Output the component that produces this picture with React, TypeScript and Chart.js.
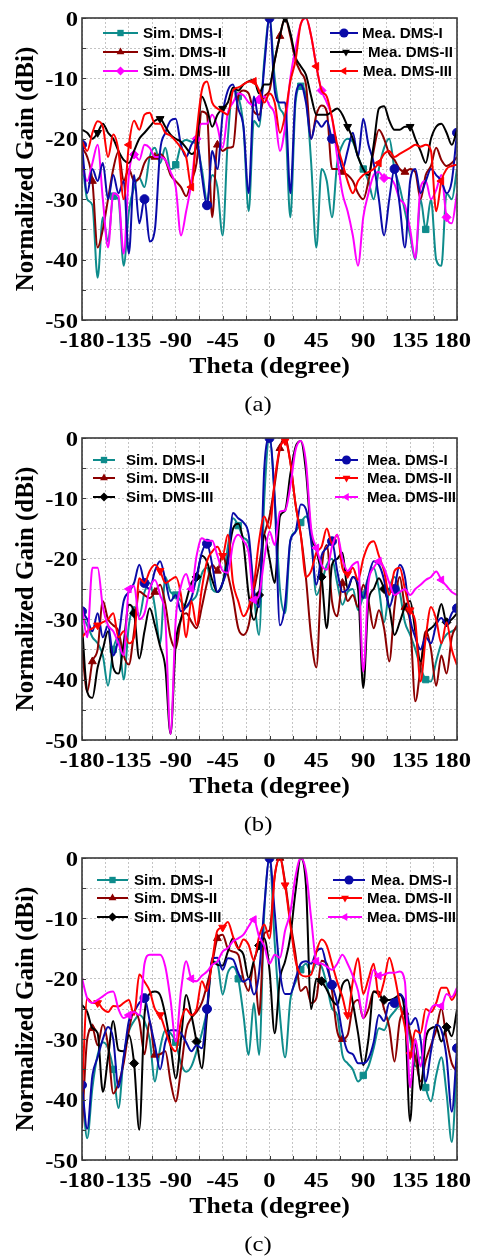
import React, { useEffect, useRef } from 'react';
import { Chart, registerables } from 'chart.js';

Chart.register(...registerables);

// ---------- categories / ticks ----------
const THETA = [
  -180, -175, -170, -165, -160, -155, -150, -145, -140, -135,
  -130, -125, -120, -115, -110, -105, -100, -95, -90, -85,
  -80, -75, -70, -65, -60, -55, -50, -45, -40, -35,
  -30, -25, -20, -15, -10, -5, 0,
  5, 10, 15, 20, 25, 30, 35, 40, 45, 50,
  55, 60, 65, 70, 75, 80, 85, 90, 95, 100,
  105, 110, 115, 120, 125, 130, 135, 140, 145, 150,
  155, 160, 165, 170, 175, 180,
];
const X_GRID = [-180, -157.5, -135, -112.5, -90, -67.5, -45, -22.5, 0, 22.5, 45, 67.5, 90, 112.5, 135, 157.5, 180];
const Y_GRID = [0, -5, -10, -15, -20, -25, -30, -35, -40, -45, -50];
const X_TICKS = [-180, -135, -90, -45, 0, 45, 90, 135, 180];
const Y_TICKS = [0, -10, -20, -30, -40, -50];
const X_TITLE = 'Theta (degree)';
const Y_TITLE = 'Normalized Gain (dBi)';
const SERIES_NAMES = ['Sim. DMS-I', 'Sim. DMS-II', 'Sim. DMS-III', 'Mea. DMS-I', 'Mea. DMS-II', 'Mea. DMS-III'];
const CAPTIONS = ['(a)', '(b)', '(c)'];

// ---------- panel (a) ----------
const A_SIM_I = [
  -23, -30, -31, -43, -33, -37, -29.5, -30, -41, -32,
  -28, -26.5, -28, -23, -21.5, -24, -21.5, -25, -24.3, -21,
  -20.2, -20.5, -21, -25, -30, -26, -28, -36, -20, -12,
  -13, -18, -32, -17, -18, -7, 0,
  -10, -15, -17, -33, -14, -11.3, -13, -24, -38, -25,
  -27, -33, -24, -21, -20, -20.5, -23, -25, -27, -30,
  -25, -21.5, -20, -25, -28, -32, -36, -40, -30, -35,
  -30, -40, -41, -29, -30, -25,
];
const A_SIM_II = [
  -21.5, -23, -27, -38, -35, -30, -25, -22.1, -27, -25,
  -27, -26.5, -24, -23, -23, -22.5, -23.5, -26, -27, -28,
  -29.5, -27, -24, -15.5, -16, -33, -21, -22, -21.5, -21.3,
  -13, -12, -12.5, -15.5, -16, -13, -12,
  -7, -3, 0, -3, -7, -9, -11, -20, -16, -14.5,
  -15.5, -25, -25, -25.5, -26, -27, -29, -30, -27, -22,
  -18.5, -20, -22.5, -23.5, -25, -25.5, -25, -25.5, -30, -26,
  -24.5, -21.5, -23.5, -24.5, -24, -23,
];
const A_SIM_III = [
  -24.3, -27, -24, -21, -30, -38, -29, -29.5, -39, -26,
  -22.6, -23.5, -21, -21.5, -23, -23, -23.5, -25.5, -28, -36,
  -32, -27.3, -20, -17.5, -17.5, -16, -18, -21.5, -15.7, -14,
  -12.5, -12.8, -14, -14.5, -13.5, -13, -14.5,
  -16, -22, -18, -10, -5, -1, 0, -3, -8, -12,
  -14, -16.5, -23, -29, -32, -36, -41, -33, -29, -26,
  -25.5, -26.5, -26.5, -27.5, -30, -31, -35, -39.8, -28, -27,
  -30, -28.5, -26, -33, -34, -29,
];
const A_MEA_I = [
  -21, -29, -25, -27, -24, -30, -26, -29, -27, -39,
  -26, -34, -30, -37, -35, -22, -19, -17, -16.7, -21,
  -23, -21, -20, -26, -31, -22, -25, -16, -12, -11,
  -15, -18, -29, -13, -17, -8, 0,
  -12, -14, -14, -29, -13, -11, -14, -20, -17, -18,
  -17, -20, -21, -25, -22, -19, -23, -16.7, -21, -24,
  -30, -36, -30, -25, -31, -38, -27, -25, -29, -27,
  -25, -26, -27, -29, -27, -19,
];
const A_MEA_II = [
  -18.5, -19, -20, -19, -17.5, -19, -20, -22, -23.5, -24,
  -22, -20, -19, -18, -17, -16.7, -18, -19.3, -20, -20.5,
  -21.5, -22.5, -21, -13, -15, -18, -16, -15, -14, -11.5,
  -12, -11, -10.5, -10.2, -12.5, -11, -11,
  -7, -3, 0, -2.5, -6.5, -8, -9.4, -13, -16, -16,
  -16, -15.5, -15, -16, -18, -20, -23, -25, -26, -21,
  -15, -14.6, -17, -18.5, -18.5, -18, -18, -20, -22, -24,
  -20, -18, -17.5, -19, -21, -18.5,
];
const A_MEA_III = [
  -20.4, -22, -19, -17.1, -18, -23, -19.3, -22, -30, -21,
  -17, -18.5, -16, -15.7, -17.5, -17.5, -19, -19.5, -20.4, -21.5,
  -23, -28, -19, -12, -10.5, -14, -15, -15.5, -16, -12,
  -11.5, -11, -10.5, -10.5, -12, -14, -12.5,
  -14, -19, -16, -10.5, -7, -1, 0, -3, -8, -12,
  -13, -16.5, -21, -24, -27, -29, -27, -26, -25.5, -25,
  -24, -22.5, -22, -23, -22.5, -22, -21.5, -21, -21.3, -21,
  -22, -32, -27, -25, -24.5, -24.3,
];

// ---------- panel (b) ----------
const B_SIM_I = [
  -29.5, -31, -33, -34, -36, -41, -35, -33, -40, -31,
  -28, -29.5, -25.5, -24, -28, -34, -23, -25.5, -26, -27,
  -28, -27, -26, -22.5, -21.5, -25, -25.5, -24, -18, -13.3,
  -14.5, -16.5, -17.5, -26, -32.6, -10, 0,
  -10, -25, -29, -17, -15.5, -14, -13, -16.5, -26, -24,
  -21, -20, -24, -27.6, -25.5, -25, -28.5, -26, -23, -21.5,
  -25, -30.5, -25, -23, -25.5, -30.5, -32.6, -35, -38, -40,
  -40.3, -37, -34, -32.5, -32, -31.5,
];
const B_SIM_II = [
  -34.8, -42, -37, -35, -27, -30, -31, -32, -36, -37.5,
  -32, -25.4, -26, -26.5, -25.5, -24.3, -27.5, -33, -34.8, -30,
  -29, -30.4, -31.5, -28, -24, -21, -22, -19.3, -22.6, -26.5,
  -31.5, -32.6, -31, -25.4, -21, -16, -13,
  -7.7, -1.7, 0, -4, -11, -16, -23.2, -33, -38, -22,
  -17.7, -27, -29.5, -24, -27, -26, -28, -24.3, -27, -31.5,
  -28.5, -31.5, -37, -28, -23, -28, -30.5, -43.6, -38, -32,
  -35, -41, -36, -39, -33, -31,
];
const B_SIM_III = [
  -31, -42, -43, -38, -35, -32, -38, -39, -34, -27.6,
  -29, -36.5, -32, -28.2, -31, -34.5, -38, -49, -34, -30,
  -27, -24, -23, -19.5, -20.5, -23.5, -25.5, -24, -20, -15,
  -14.2, -17.5, -26, -30.1, -26, -16, -20,
  -24, -13, -12, -6, -1.5, -0.5, -5.5, -16, -18.5, -23,
  -31.5, -21, -20, -19, -25, -23, -25, -41.4, -27, -25,
  -23.2, -25, -28, -32.6, -30.5, -28, -27, -32, -37, -32.5,
  -31.5, -30.5, -27.5, -30.5, -30, -29,
];
const B_MEA_I = [
  -28.7, -30, -32, -29, -33, -31, -36, -33, -27, -25.5,
  -24, -21, -24, -25, -22, -20.4, -23.5, -27, -26, -28.7,
  -28, -26.5, -23, -19, -17.5, -21, -25.5, -24, -21, -12.4,
  -13.3, -14, -16, -25, -28, -5, 0,
  -10, -31, -27.5, -17, -15.5, -11, -11.8, -17, -24.3, -19.5,
  -18.2, -17.1, -22, -25.5, -25, -23, -24, -26.5, -23, -20.4,
  -21, -23.5, -28, -25, -21, -23, -30, -33, -35, -33,
  -34, -31, -29.8, -31, -29, -28.2,
];
const B_MEA_II = [
  -33, -32, -31.5, -31, -30.5, -30, -29, -33, -32, -34,
  -33, -23.2, -24, -22, -21, -22, -24, -23.5, -23, -26,
  -33, -27, -31, -25, -20.4, -18.8, -18, -19.5, -16, -24,
  -27, -29.5, -28, -24.3, -17, -13, -15,
  -7, -1.7, -0.5, -4, -11, -16, -23, -22, -19, -18,
  -15, -17.5, -16, -21.5, -22.5, -21.5, -23.5, -20, -17.7, -17.1,
  -19.5, -22, -26, -22, -21.5, -25, -28.5, -30.5, -40.3, -33,
  -28, -30, -34, -30.5, -35, -37.6,
];
const B_MEA_III = [
  -28, -33, -21.5, -21.5, -28, -31, -32, -34, -36, -25,
  -24.5, -30, -29, -25, -23.5, -26, -30, -49, -30, -24.5,
  -22.5, -25, -19.5, -16.6, -17, -17, -19.5, -22, -22.3, -17.5,
  -16, -17, -19, -26.8, -26, -20, -15.5,
  -17.7, -12.2, -12, -8, -2, -0.5, -4, -15, -18.2, -21,
  -21.8, -18, -16, -20, -22, -21, -20.5, -38.7, -24, -21.5,
  -20.4, -21.5, -24, -26, -25.5, -25, -26, -25, -24.3, -23.5,
  -23, -22.1, -23.5, -24.5, -25.5, -26,
];

// ---------- panel (c) ----------
const C_SIM_I = [
  -38, -46.4, -38, -32.6, -30.5, -31.5, -35, -41.4, -33, -28.7,
  -27, -26, -27, -30, -37, -31.5, -28.5, -29, -30.5, -34,
  -35.4, -34.5, -32, -29, -25, -17.1, -17.5, -22.6, -19, -18,
  -20, -26, -32.6, -24, -32.6, -9, 0,
  -14, -26, -33, -23.5, -20.5, -18.5, -17.5, -19, -17.5, -18,
  -21, -24.9, -26, -32.6, -34, -35, -37, -36, -34.5, -31.5,
  -28.2, -28.5, -26.5, -25.4, -24.5, -26, -30, -34.5, -33, -38,
  -40.3, -36, -33, -39, -47, -34,
];
const C_SIM_II = [
  -44.7, -30, -28.2, -31, -27.6, -31, -39, -37.3, -34, -28.5,
  -25.4, -27, -32.5, -27, -32.6, -32.5, -32, -37, -40.3, -35,
  -28.5, -26.5, -25.5, -24, -21, -17.5, -13.3, -12.7, -15, -15.5,
  -16, -20, -22, -17.4, -26, -12.5, -12,
  -3, 0, -4, -10.5, -16, -22, -21.3, -24, -23.2, -17,
  -17.5, -22, -28.7, -30, -29.3, -24.5, -23.5, -26.5, -25, -22.1,
  -22.1, -25, -28, -33.7, -27, -25.5, -29, -33, -37, -33.5,
  -31, -28.5, -24.9, -30, -34, -35.4,
];
const C_SIM_III = [
  -24.3, -25.5, -28.2, -29, -38.7, -33, -27, -31.8, -32, -29.3,
  -34, -45, -26, -22.5, -22.1, -22.7, -26, -31, -36.5, -30,
  -22.7, -26, -30.4, -34.8, -26, -17.1, -17.7, -17.8, -15.5, -13.3,
  -15, -16, -19.9, -17, -14.5, -13.3, -18.6,
  -29, -20, -17.1, -13, -5.5, 0, -4.5, -25, -20, -20.4,
  -21.8, -23.5, -24.3, -21, -20.2, -24, -29, -34.3, -30, -22.1,
  -22.6, -23.5, -23.5, -23.2, -22.7, -26, -43.6, -30, -38.4, -30,
  -28.2, -28, -30.4, -28, -29.5, -25.1,
];
const C_MEA_I = [
  -37.6, -44.8, -36, -33, -30, -28, -30, -38, -33, -27,
  -25.5, -24, -23.2, -27, -31, -35, -30.5, -28.5, -28.5, -29,
  -30.5, -32, -31, -31.5, -25, -16.6, -16.5, -18.5, -16.6, -16.8,
  -19, -20.5, -20, -22.6, -19, -8, 0,
  -9, -18.8, -22.5, -22.5, -20, -17.5, -17.1, -17.5, -15.5, -15,
  -18, -21, -24, -29, -32, -32.5, -34, -34, -33.2, -30.5,
  -26, -27, -24, -24, -22.5, -23.8, -27.6, -26.5, -30, -37,
  -32, -27.6, -28.5, -33, -42, -31.5,
];
const C_MEA_II = [
  -38.7, -23.2, -24, -24, -25, -25.5, -24.5, -24.6, -24, -23.5,
  -26, -19.3, -20.5, -22, -25, -26, -28.5, -31, -32, -27,
  -25, -26, -25, -20.4, -22, -17, -12, -11.5, -10.6, -13,
  -15, -13.5, -14.4, -17, -13, -11, -13.3,
  -3, 0, -4.5, -11, -17, -19.3, -19.6, -19.3, -15.5, -13.5,
  -14.5, -17.5, -20.5, -23, -26, -20.4, -16.6, -22.5, -20, -17.5,
  -23, -20.4, -16.5, -19.5, -24, -28, -32.6, -28.5, -29, -25,
  -25.5, -24, -21.5, -21.5, -23.5, -22,
];
const C_MEA_III = [
  -19.9, -23.2, -24, -23.5, -22.9, -22.3, -22.1, -25, -26.5, -26,
  -25.5, -26, -17.5, -16, -16, -16, -18, -23.5, -30.4, -22,
  -17.1, -20, -20.4, -19.5, -18.8, -17.7, -17.1, -15.5, -14.9, -13.8,
  -13.3, -12.7, -11.3, -10.2, -13, -14.6, -17.5,
  -16, -16.5, -12, -9, -3, 0, -2.2, -10, -17.1, -17.5,
  -18, -18.5, -17.5, -16, -17.5, -19.5, -22, -26.5, -22, -18.5,
  -19.5, -19.3, -19, -19, -18.8, -20.5, -38, -30, -34.5, -28,
  -25, -24.3, -24.5, -22.5, -23, -21.5,
];

// ---------- styling / layout ----------
const W = 479;
const PLOT_LEFT = 82;
const PLOT_RIGHT = 457;
const PLOT_TOP = 18;
const PLOT_BOTTOM = 320;

const TEAL = '#0e8c8c';
const MAROON = '#8b0000';
const MAGENTA = '#ff00ff';
const NAVY = '#0a0aa8';
const BLACK = '#000000';
const RED = '#ff0000';
const GRID_COLOR = '#c4c4c4';
const AXIS_COLOR = '#3a3a3a';

const TICK_FONT = 'bold 22px "Liberation Serif"';
const TITLE_FONT = 'bold 23px "Liberation Serif"';
const YTITLE_FONT = 'bold 25px "Liberation Serif"';
const CAPTION_FONT = '22px "Liberation Serif"';
const LEGEND_FONT = 'bold 14px "Liberation Sans"';
const SX = 1.12;
const LEGEND_SX = 1.08;
const MARKER_STEP = 12;

type Mk = { style: string; rot: number; off: number };
const MK_SIM_I: Mk = { style: 'rect', rot: 0, off: 6 };
const MK_SIM_II: Mk = { style: 'triangle', rot: 0, off: 2 };
const MK_SIM_III: Mk = { style: 'rectRot', rot: 0, off: 10 };
const MK_MEA_I: Mk = { style: 'circle', rot: 0, off: 0 };
const MK_MEA_II: Mk = { style: 'triangle', rot: 180, off: 3 };
const MK_MEA_III: Mk = { style: 'triangle', rot: -90, off: 9 };
const MARKERS = [MK_SIM_I, MK_SIM_II, MK_SIM_III, MK_MEA_I, MK_MEA_II, MK_MEA_III];

type LegendItem = { x1: number; x2: number; tx: number; y: number };

const PANELS = [
  {
    height: 420,
    caption: CAPTIONS[0],
    series: [A_SIM_I, A_SIM_II, A_SIM_III, A_MEA_I, A_MEA_II, A_MEA_III],
    colors: [TEAL, MAROON, MAGENTA, NAVY, BLACK, RED],
    legend: [
      { x1: 103, x2: 138, tx: 143, y: 33 },
      { x1: 103, x2: 138, tx: 143, y: 52 },
      { x1: 103, x2: 138, tx: 143, y: 71 },
      { x1: 330, x2: 358, tx: 362, y: 33 },
      { x1: 330, x2: 362, tx: 368, y: 52 },
      { x1: 330, x2: 358, tx: 363, y: 71 },
    ] as LegendItem[],
  },
  {
    height: 420,
    caption: CAPTIONS[1],
    series: [B_SIM_I, B_SIM_II, B_SIM_III, B_MEA_I, B_MEA_II, B_MEA_III],
    colors: [TEAL, MAROON, BLACK, NAVY, RED, MAGENTA],
    legend: [
      { x1: 93, x2: 115, tx: 126, y: 40 },
      { x1: 93, x2: 115, tx: 126, y: 58 },
      { x1: 93, x2: 115, tx: 126, y: 77 },
      { x1: 335, x2: 358, tx: 367, y: 40 },
      { x1: 335, x2: 358, tx: 367, y: 58 },
      { x1: 335, x2: 358, tx: 367, y: 77 },
    ] as LegendItem[],
  },
  {
    height: 418,
    caption: CAPTIONS[2],
    series: [C_SIM_I, C_SIM_II, C_SIM_III, C_MEA_I, C_MEA_II, C_MEA_III],
    colors: [TEAL, MAROON, BLACK, NAVY, RED, MAGENTA],
    legend: [
      { x1: 97, x2: 128, tx: 134, y: 40 },
      { x1: 97, x2: 128, tx: 134, y: 58 },
      { x1: 97, x2: 128, tx: 134, y: 77 },
      { x1: 333, x2: 365, tx: 371, y: 40 },
      { x1: 328, x2: 362, tx: 367, y: 58 },
      { x1: 328, x2: 362, tx: 367, y: 77 },
    ] as LegendItem[],
  },
];

// draw order: first dataset is drawn on top
const DRAW_ORDER = [5, 4, 3, 2, 1, 0];

function drawText(ctx: CanvasRenderingContext2D, text: string, x: number, y: number, font: string, align: CanvasTextAlign, sx: number) {
  ctx.save();
  ctx.translate(x, y);
  ctx.scale(sx, 1);
  ctx.font = font;
  ctx.textAlign = align;
  ctx.textBaseline = 'alphabetic';
  ctx.fillStyle = '#000';
  ctx.fillText(text, 0, 0);
  ctx.restore();
}

function drawMarker(ctx: CanvasRenderingContext2D, mk: Mk, x: number, y: number, r: number, color: string) {
  ctx.save();
  ctx.fillStyle = color;
  ctx.beginPath();
  if (mk.style === 'circle') {
    ctx.arc(x, y, r, 0, Math.PI * 2);
  } else if (mk.style === 'rect') {
    const s = r * Math.SQRT1_2;
    ctx.rect(x - s, y - s, 2 * s, 2 * s);
  } else if (mk.style === 'rectRot') {
    ctx.moveTo(x, y - r);
    ctx.lineTo(x + r, y);
    ctx.lineTo(x, y + r);
    ctx.lineTo(x - r, y);
    ctx.closePath();
  } else {
    for (let k = 0; k < 3; k++) {
      const a = ((mk.rot + k * 120) * Math.PI) / 180;
      const px = x + r * Math.sin(a);
      const py = y - r * Math.cos(a);
      if (k === 0) ctx.moveTo(px, py);
      else ctx.lineTo(px, py);
    }
    ctx.closePath();
  }
  ctx.fill();
  ctx.restore();
}

function makeDecor(panel: typeof PANELS[number]) {
  return {
    id: 'decor',
    afterDraw(chart: any) {
      const ctx: CanvasRenderingContext2D = chart.ctx;
      const a = chart.chartArea;
      const xs = chart.scales.x;
      const ys = chart.scales.y;
      ctx.save();
      // inner tick marks
      ctx.strokeStyle = AXIS_COLOR;
      ctx.lineWidth = 1;
      ctx.beginPath();
      X_GRID.forEach((v) => {
        const p = Math.round(xs.getPixelForValue(v)) + 0.5;
        ctx.moveTo(p, a.bottom);
        ctx.lineTo(p, a.bottom - 4);
      });
      Y_GRID.forEach((v) => {
        const p = Math.round(ys.getPixelForValue(v)) + 0.5;
        ctx.moveTo(a.left, p);
        ctx.lineTo(a.left + 4, p);
      });
      ctx.stroke();
      // frame
      ctx.lineWidth = 1.6;
      ctx.strokeRect(a.left, a.top, a.right - a.left, a.bottom - a.top);

      // tick labels
      Y_TICKS.forEach((v) => {
        drawText(ctx, String(v), a.left - 4, ys.getPixelForValue(v) + 7.5, TICK_FONT, 'right', SX);
      });
      ctx.font = TICK_FONT;
      X_TICKS.forEach((v) => {
        const t = String(v);
        const w = ctx.measureText(t).width * SX;
        let x = xs.getPixelForValue(v);
        x = Math.min(x, chart.width - 8 - w / 2);
        drawText(ctx, t, x, a.bottom + 27, TICK_FONT, 'center', SX);
      });

      // axis titles
      drawText(ctx, X_TITLE, (a.left + a.right) / 2, a.bottom + 53, TITLE_FONT, 'center', SX);
      ctx.save();
      ctx.translate(33, (a.top + a.bottom) / 2);
      ctx.rotate(-Math.PI / 2);
      ctx.font = YTITLE_FONT;
      ctx.textAlign = 'center';
      ctx.textBaseline = 'alphabetic';
      ctx.fillStyle = '#000';
      ctx.fillText(Y_TITLE, 0, 0);
      ctx.restore();

      // caption
      drawText(ctx, panel.caption, 258, a.bottom + 91, CAPTION_FONT, 'center', SX);

      // legend
      panel.legend.forEach((it, i) => {
        const color = panel.colors[i];
        ctx.strokeStyle = color;
        ctx.lineWidth = 2;
        ctx.beginPath();
        ctx.moveTo(it.x1, it.y);
        ctx.lineTo(it.x2, it.y);
        ctx.stroke();
        drawMarker(ctx, MARKERS[i], (it.x1 + it.x2) / 2, it.y, 4.5, color);
        drawText(ctx, SERIES_NAMES[i], it.tx, it.y + 5, LEGEND_FONT, 'left', LEGEND_SX);
      });
      ctx.restore();
    },
  };
}

function Panel({ panel }: { panel: typeof PANELS[number] }) {
  const ref = useRef<HTMLCanvasElement | null>(null);
  useEffect(() => {
    const canvas = ref.current;
    if (!canvas) return;
    const datasets = DRAW_ORDER.map((i) => {
      const vals = panel.series[i];
      const mk = MARKERS[i];
      const color = panel.colors[i];
      return {
        label: SERIES_NAMES[i],
        data: vals.map((v, k) => ({ x: THETA[k], y: v })),
        borderColor: color,
        backgroundColor: color,
        borderWidth: 2,
        pointStyle: mk.style,
        pointRotation: mk.rot,
        pointRadius: (c: any) => (c.dataIndex % MARKER_STEP === mk.off ? 4.5 : 0),
        pointBackgroundColor: color,
        pointBorderColor: color,
        pointBorderWidth: 1,
        cubicInterpolationMode: 'monotone',
        fill: false,
      };
    });
    const gridCfg = { color: GRID_COLOR, lineWidth: 1, drawTicks: false };
    const borderCfg = { display: false, dash: [2, 2] };
    const chart = new Chart(canvas, {
      type: 'line',
      data: { datasets } as any,
      options: {
        responsive: false,
        animation: false,
        devicePixelRatio: 1,
        events: [],
        layout: {
          padding: {
            left: PLOT_LEFT,
            right: W - PLOT_RIGHT,
            top: PLOT_TOP,
            bottom: panel.height - PLOT_BOTTOM,
          },
        },
        plugins: { legend: { display: false }, tooltip: { enabled: false }, title: { display: false } },
        scales: {
          x: {
            type: 'linear',
            min: -180,
            max: 180,
            afterBuildTicks: (s: any) => {
              s.ticks = X_GRID.map((v) => ({ value: v }));
            },
            afterFit: (s: any) => {
              s.height = 0;
            },
            ticks: { display: false },
            grid: gridCfg,
            border: borderCfg,
          },
          y: {
            type: 'linear',
            min: -50,
            max: 0,
            afterBuildTicks: (s: any) => {
              s.ticks = Y_GRID.map((v) => ({ value: v }));
            },
            afterFit: (s: any) => {
              s.width = 0;
            },
            ticks: { display: false },
            grid: gridCfg,
            border: borderCfg,
          },
        },
      } as any,
      plugins: [makeDecor(panel)],
    });
    return () => chart.destroy();
  }, [panel]);
  return (
    <canvas
      ref={ref}
      width={W}
      height={panel.height}
      style={{ display: 'block', width: W + 'px', height: panel.height + 'px' }}
    />
  );
}

export default function App() {
  return (
    <div
      style={{
        position: 'absolute',
        left: 0,
        top: 0,
        width: W,
        height: 1258,
        overflow: 'hidden',
        background: '#fff',
      }}
    >
      {PANELS.map((p, i) => (
        <Panel key={i} panel={p} />
      ))}
    </div>
  );
}
